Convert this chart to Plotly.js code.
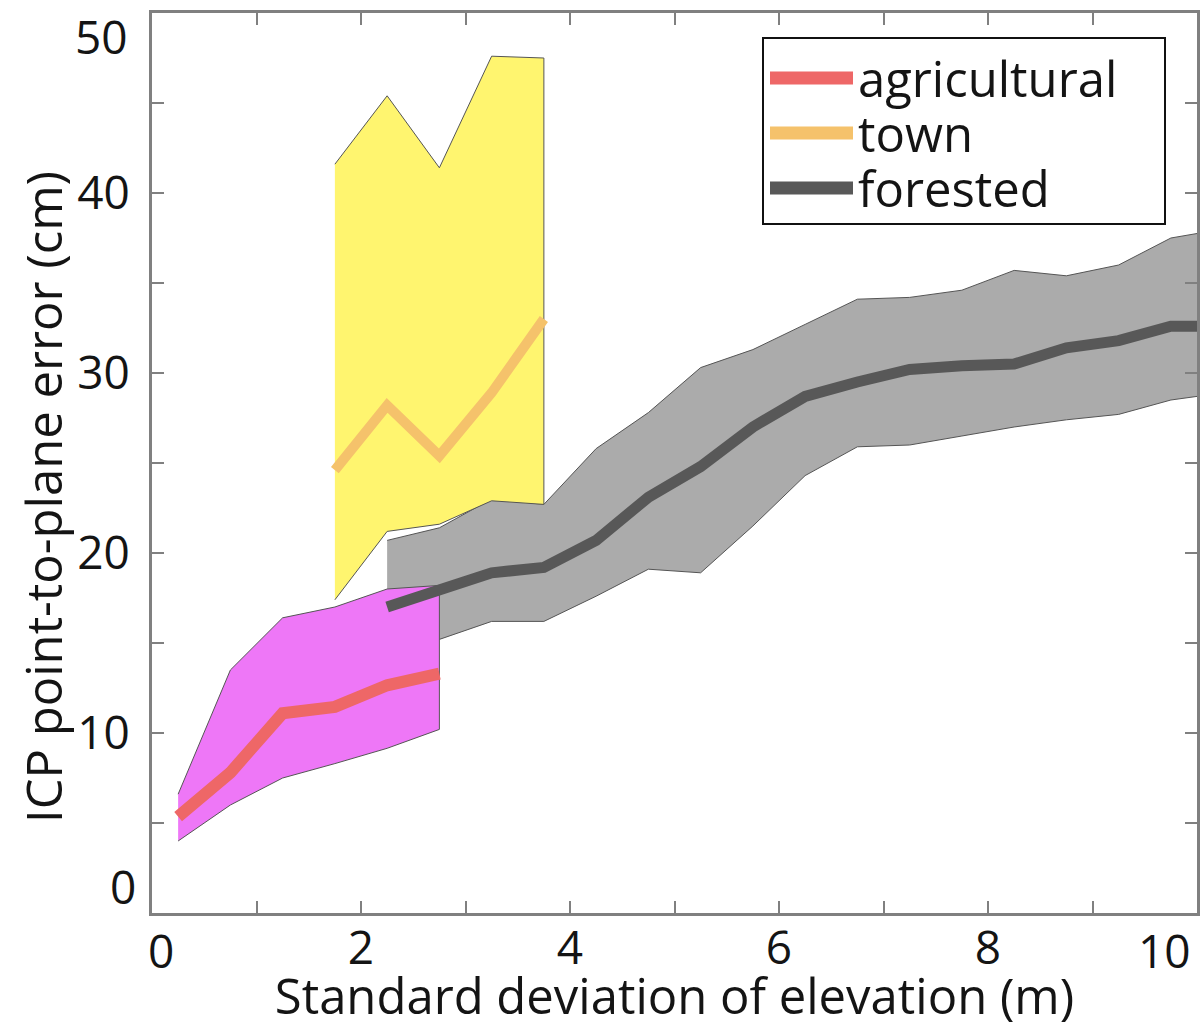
<!DOCTYPE html>
<html>
<head>
<meta charset="utf-8">
<script src="https://cdn.plot.ly/plotly-3.0.1.min.js"></script>
<style>html,body{margin:0;padding:0;background:#fff;}#chart{width:1201px;height:1028px;}</style>
</head>
<body>
<div id="chart"></div>
<script>
// ---- data ----
const seriesNames = ["agricultural", "town", "forested"];

const agriX     = [0.25, 0.75, 1.25, 1.75, 2.25, 2.75];
const agriMean  = [5.35, 7.8, 11.1, 11.45, 12.65, 13.3];
const agriUpper = [6.6, 13.5, 16.4, 17.0, 18.0, 18.2];
const agriLower = [4.0, 6.0, 7.5, 8.3, 9.15, 10.2];

const townX     = [1.75, 2.25, 2.75, 3.25, 3.75];
const townMean  = [24.6, 28.2, 25.4, 28.9, 33.0];
const townUpper = [41.6, 45.4, 41.4, 47.6, 47.5];
const townLower = [17.4, 21.2, 21.6, 22.9, 22.7];

const forestX     = [2.25, 2.75, 3.25, 3.75, 4.25, 4.75, 5.25, 5.75, 6.25, 6.75, 7.25, 7.75, 8.25, 8.75, 9.25, 9.75, 10.25];
const forestMean  = [17.0, 17.9, 18.9, 19.2, 20.7, 23.1, 24.8, 27.0, 28.7, 29.5, 30.2, 30.4, 30.5, 31.4, 31.8, 32.6, 32.6];
const forestUpper = [20.7, 21.4, 23.0, 22.7, 25.8, 27.8, 30.3, 31.3, 32.7, 34.1, 34.2, 34.6, 35.7, 35.4, 36.0, 37.5, 38.0];
const forestLower = [14.5, 15.2, 16.2, 16.2, 17.6, 19.1, 18.9, 21.5, 24.3, 25.9, 26.0, 26.5, 27.0, 27.4, 27.7, 28.5, 28.9];

const xTickVals = [0,1,2,3,4,5,6,7,8,9,10];
const xTickText = ["", "", "2", "", "4", "", "6", "", "8", "", ""];
const yTickVals = [0,5,10,15,20,25,30,35,40,45,50];
const yTickText = ["", "", "10", "", "20", "", "30", "", "40", "", ""];
const edgeLabels = { x0: "0", x10: "10", y0: "0", y50: "50" };
const xTitle = "Standard deviation of elevation (m)";
const yTitle = "ICP point-to-plane error (cm)";

// ---- styles ----
const FONT = "Open Sans, Noto Sans, sans-serif";
const TXT = "#141414";
const AX = "#808080";
const TICK_SIZE = 46;
const TITLE_SIZE = 49;
const LEG_SIZE = 49;
const colors = { agri: "#EE6767", town: "#F5C26B", forest: "#585858" };
const widths = { agri: 12, town: 10, forest: 11 };

// plot area in pixels (for placing the framed legend box)
const M = { l: 152, r: 4, t: 13, b: 115 };
const W = 1201, H = 1028;
const PW = W - M.l - M.r, PH = H - M.t - M.b;
const px = p => (p - M.l) / PW;
const py = p => (H - M.b - p) / PH;

function band(xs, up, lo, fillColor) {
  return {
    x: xs.concat(xs.slice().reverse()),
    y: up.concat(lo.slice().reverse()),
    type: "scatter", mode: "lines", fill: "toself",
    fillcolor: fillColor,
    line: { color: "#555555", width: 1 },
    showlegend: false, hoverinfo: "skip"
  };
}
function meanLine(xs, ys, name, color, w) {
  return { x: xs, y: ys, type: "scatter", mode: "lines", name: name,
           line: { color: color, width: w }, showlegend: false };
}

const traces = [
  band(forestX, forestUpper, forestLower, "#ABABAB"),
  band(townX, townUpper, townLower, "#FFF56F"),
  band(agriX, agriUpper, agriLower, "#EE77F7"),
  meanLine(agriX, agriMean, seriesNames[0], colors.agri, widths.agri),
  meanLine(townX, townMean, seriesNames[1], colors.town, widths.town),
  meanLine(forestX, forestMean, seriesNames[2], colors.forest, widths.forest)
];

const axisCommon = {
  showline: true, linecolor: AX, linewidth: 3, mirror: "ticks",
  ticks: "inside", ticklen: 12, tickwidth: 2, tickcolor: AX,
  showgrid: false, zeroline: false,
  tickfont: { family: FONT, size: TICK_SIZE, color: TXT },
  tickmode: "array"
};

const tf = { family: FONT, size: TICK_SIZE, color: TXT };

// legend (framed box with sample lines and labels)
const legRows = [78, 133, 188];
const legKeys = ["agri", "town", "forest"];
const shapes = [
  { type: "rect", xref: "paper", yref: "paper", x0: px(763), x1: px(1165), y0: py(224), y1: py(38),
    line: { color: "#111", width: 2 }, fillcolor: "#fff", layer: "above" }
];
const annotations = [
  { xref: "x", yref: "paper", x: 0, y: 0, text: edgeLabels.x0, showarrow: false, xanchor: "left", yanchor: "top", xshift: -6, yshift: -4, font: tf },
  { xref: "x", yref: "paper", x: 10, y: 0, text: edgeLabels.x10, showarrow: false, xanchor: "right", yanchor: "top", xshift: -4, yshift: -4, font: tf },
  { xref: "paper", yref: "y", x: 0, y: 0, text: edgeLabels.y0, showarrow: false, xanchor: "right", yanchor: "bottom", xshift: -14, yshift: -6, font: tf },
  { xref: "paper", yref: "y", x: 0, y: 50, text: edgeLabels.y50, showarrow: false, xanchor: "right", yanchor: "top", xshift: -22, yshift: 10, font: tf },
  { xref: "paper", yref: "paper", x: px(43), y: py(497), text: yTitle, textangle: -90, showarrow: false,
    xanchor: "center", yanchor: "middle", font: { family: FONT, size: TITLE_SIZE, color: TXT } }
];
legKeys.forEach((k, i) => {
  shapes.push({ type: "line", xref: "paper", yref: "paper", x0: px(770), x1: px(853), y0: py(legRows[i]), y1: py(legRows[i]),
                line: { color: colors[k], width: 13 }, layer: "above" });
  annotations.push({ xref: "paper", yref: "paper", x: px(856), y: py(legRows[i]), text: seriesNames[i], showarrow: false,
                     xanchor: "left", yanchor: "middle", font: { family: FONT, size: LEG_SIZE, color: TXT } });
});

const layout = {
  width: W, height: H,
  margin: M,
  paper_bgcolor: "#fff", plot_bgcolor: "#fff",
  font: { family: FONT, color: TXT },
  xaxis: Object.assign({}, axisCommon, {
    range: [0, 10], tickvals: xTickVals, ticktext: xTickText,
    ticklabelstandoff: -7,
    title: { text: xTitle, font: { family: FONT, size: TITLE_SIZE, color: TXT }, standoff: 6 }
  }),
  yaxis: Object.assign({}, axisCommon, {
    range: [0, 50], tickvals: yTickVals, ticktext: yTickText,
    ticklabelstandoff: 10
  }),
  shapes: shapes,
  annotations: annotations,
  showlegend: false
};

Plotly.newPlot("chart", traces, layout, { staticPlot: true, displayModeBar: false });
</script>
</body>
</html>
